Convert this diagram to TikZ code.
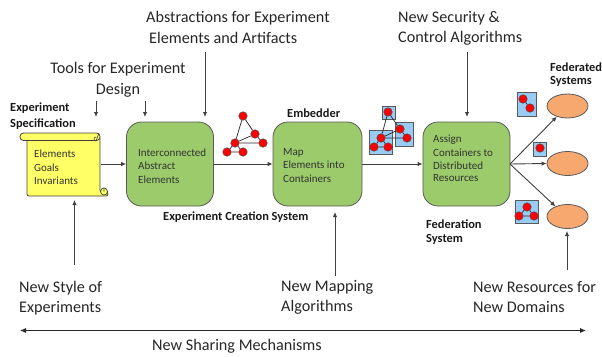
\documentclass[tikz,border=0pt]{standalone}
\usepackage{fontspec}
\setmainfont{Carlito}
\usetikzlibrary{arrows.meta,shapes.geometric}
\definecolor{green1}{HTML}{9BCB6B}
\definecolor{orange1}{HTML}{F7A86F}
\definecolor{blue1}{HTML}{99CCF5}
\definecolor{yellow1}{HTML}{FFFF66}
\tikzset{
 x=1pt,y=-1pt,
 big/.style={anchor=west,align=left,font=\fontsize{16.2}{20}\selectfont,inner sep=0pt,text=black!85},
 bigc/.style={anchor=center,align=center,font=\fontsize{16.2}{21}\selectfont,inner sep=0pt,text=black!85},
 lab/.style={anchor=west,align=left,font=\bfseries\fontsize{12.4}{15}\selectfont,inner sep=0pt,text=black!90},
 inb/.style={anchor=west,align=left,font=\fontsize{11}{13.5}\selectfont,inner sep=0pt,text=black!80},
 proc/.style={draw=black!65,line width=0.8pt,fill=green1,rounded corners=15pt,minimum width=86pt,minimum height=84pt,inner sep=0pt},
 sys/.style={draw=black!65,line width=0.8pt,fill=orange1,ellipse,minimum width=41pt,minimum height=24pt,inner sep=0pt},
 vx/.style={circle,draw=black!70,line width=0.5pt,fill=red,minimum size=8.5pt,inner sep=0pt},
 cont/.style={draw=black!65,line width=0.8pt,fill=blue1},
 ed/.style={draw=black!85,line width=0.7pt},
 arr/.style={draw=black!75,line width=0.9pt,-{Latex[length=5pt,width=4.5pt]}},
}
\begin{document}
\begin{tikzpicture}
\useasboundingbox (0,0) rectangle (602,356);
% scroll
\path[draw=black!75,line width=0.8pt,fill=yellow1,rounded corners=2pt] (27,137) -- (100,137) -- (100,192) -- (108,192) -- (108,196) -- (27,196) -- cycle;
\path[draw=black!75,line width=0.8pt,fill=yellow1,rounded corners=3.5pt] (20,133) rectangle (100,140.5);
\node[circle,draw=black!75,line width=0.7pt,fill=yellow1,minimum size=7pt,inner sep=0pt] (curl) at (104,191.5) {};
\draw[black!75,line width=0.6pt] (104,191.5) -- (104,188.5) (96,137) arc (270:90:2) -- (99,133);
\node[inb] (t1) at (34,154) {Elements};
\node[inb] (t2) at (34,167.5) {Goals};
\node[inb] (t3) at (34,181) {Invariants};
\coordinate (scrollr) at (100.5,164);
% process boxes
\node[proc,minimum width=87pt] (b1) at (170,164) {};
\node[proc,minimum width=89pt] (b2) at (317.5,164) {};
\node[proc,minimum width=87pt] (b3) at (466.5,164) {};
\node[inb] (u1) at (138,153) {Interconnected};
\node[inb] (u2) at (138,166) {Abstract};
\node[inb] (u3) at (138,179.5) {Elements};
\node[inb] (u4) at (283,152.5) {Map};
\node[inb] (u5) at (283,165) {Elements into};
\node[inb] (u6) at (283,179) {Containers};
\node[inb] (u7) at (433,140) {Assign};
\node[inb] (u8) at (433,152.5) {Containers to};
\node[inb] (u9) at (433,166) {Distributed};
\node[inb] (u10) at (433,178.5) {Resources};
% ellipses
\node[sys] (e1) at (567.5,106) {};
\node[sys] (e2) at (567.5,163.5) {};
\node[sys] (e3) at (567.5,216.5) {};
% main arrows
\draw[arr] (scrollr) -- (b1.west);
\draw[arr] (b1.east) -- (b2.west);
\draw[arr] (b2.east) -- (b3.west);
\coordinate (fan) at (510,164);
\draw[arr] (fan) -- (e1.225);
\draw[arr] (fan) -- (e2.west);
\draw[arr] (fan) -- (e3.140);
% graph 1
\foreach \n/\x/\y in {a/243/116,b/255/134,c/235/143,d/263/143,f/227/152,g/243/152}{\node[vx] (g\n) at (\x,\y) {};}
\draw[ed] (ga)--(gb) (ga)--(gc) (gb)--(gc) (gb)--(gd) (gc)--(gd) (gc)--(gf) (gc)--(gg) (gf)--(gg);
% graph 2
\path[cont] (382,106) rectangle (395,119);
\path[cont] (395,122) rectangle (413,146);
\path[cont] (369,130) rectangle (392,154);
\foreach \n/\x/\y in {a/388/112,b/400/129,c/381/138,d/407/138,f/374/147,g/388/147}{\node[vx] (h\n) at (\x,\y) {};}
\draw[ed] (ha)--(hb) (ha)--(hc) (hb)--(hc) (hb)--(hd) (hc)--(hd) (hc)--(hf) (hc)--(hg) (hf)--(hg);
% small containers
\path[cont] (517,92) rectangle (536,116);
\node[vx] (p1) at (523,99) {}; \node[vx] (p2) at (530,108) {};
\draw[ed] (p1)--(p2);
\path[cont] (533,142) rectangle (546,156);
\node[vx] (q1) at (540,148) {};
\path[cont] (515,200) rectangle (538,223);
\node[vx] (r1) at (527,207) {}; \node[vx] (r2) at (519,216) {}; \node[vx] (r3) at (534,216) {};
\draw[ed] (r1)--(r2) (r1)--(r3) (r2)--(r3);
% bold labels
\node[lab] (l1) at (10,108) {Experiment};
\node[lab] (l2) at (10,124) {Specification};
\node[lab] (l3) at (287,113) {Embedder};
\node[lab] (l4) at (163,217) {Experiment Creation System};
\node[lab] (l5) at (426,224) {Federation};
\node[lab] (l5b) at (426,239.5) {System};
\node[lab] (l6) at (550,67) {Federated};
\node[lab] (l6b) at (550,81.5) {Systems};
% big labels
\node[big] (n1) at (146,18) {Abstractions for Experiment};
\node[big] (n1b) at (149,38) {Elements and Artifacts};
\node[bigc] (n2) at (118,79.5) {Tools for Experiment\\Design};
\node[big] (n3) at (398,28) {New Security \&\\Control Algorithms};
\node[big] (n4) at (19,298) {New Style of\\Experiments};
\node[big] (n5) at (281,297) {New Mapping\\Algorithms};
\node[big] (n6) at (473,297) {New Resources for\\New Domains};
\node[big] (n7) at (152,346) {New Sharing Mechanisms};
% feature arrows
\coordinate (a1s) at (96,101); \coordinate (a1e) at (96,117);
\coordinate (a2s) at (145,101); \coordinate (a2e) at (145,117);
\coordinate (a3s) at (205,52); \coordinate (a3e) at (205,117);
\coordinate (a4s) at (467,52); \coordinate (a4e) at (467,117);
\coordinate (a5s) at (74.5,265); \coordinate (a5e) at (74.5,200);
\coordinate (a6s) at (335,276); \coordinate (a6e) at (335,212);
\coordinate (a7s) at (567,270); \coordinate (a7e) at (567,231);
\coordinate (s1) at (20,330.5); \coordinate (s2) at (586,330.5);
\foreach \i in {1,...,7}{\draw[arr] (a\i s) -- (a\i e);}
\draw[draw=black!85,line width=0.9pt,{Latex[length=6pt,width=5pt]}-{Latex[length=6pt,width=5pt]}] (s1) -- (s2);
\end{tikzpicture}
\end{document}
